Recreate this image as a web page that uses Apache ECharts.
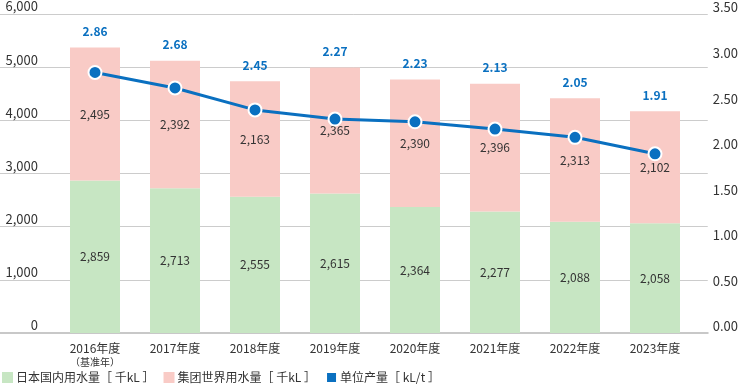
<!DOCTYPE html>
<html><head><meta charset="utf-8">
<script src="https://cdn.jsdelivr.net/npm/echarts@6/dist/echarts.min.js"></script>
<style>html,body{margin:0;padding:0;background:#fff}#c{width:741px;height:386px}</style>
</head><body><div id="c"></div>
<script>
const categories = ['2016年度', '2017年度', '2018年度', '2019年度', '2020年度', '2021年度', '2022年度', '2023年度'];
const domesticWater = [2859, 2713, 2555, 2615, 2364, 2277, 2088, 2058];
const globalWater = [2495, 2392, 2163, 2365, 2390, 2396, 2313, 2102];
// unit output as printed in the labels
const unitOutputLabels = [2.86, 2.68, 2.45, 2.27, 2.23, 2.13, 2.05, 1.91];
// unit output line as drawn in the picture
const unitOutputLine = [2.85, 2.68, 2.44, 2.34, 2.31, 2.23, 2.14, 1.96];
const leftTicks = [0, 1000, 2000, 3000, 4000, 5000, 6000];
const rightTicks = [0, 0.5, 1, 1.5, 2, 2.5, 3, 3.5];
const baseYearNote = '（基准年）';
const seriesNames = ['日本国内用水量［ 千kL ］', '集团世界用水量［ 千kL ］', '单位产量［ kL/t ］'];

const FONT = '"Noto Sans CJK SC", "Noto Sans", sans-serif';
const GREEN = '#c7e6c3', PINK = '#f9cbc6', BLUE = '#0a70c0';
const chart = echarts.init(document.getElementById('c'), null, {renderer: 'canvas'});
const fmtInt = v => v.toLocaleString('en-US');
chart.setOption({
  animation: false,
  textStyle: {fontFamily: FONT},
  grid: [
    {left: 0, right: 31, top: 13, bottom: 53},
    {left: 55, right: 46, top: 13, bottom: 53}
  ],
  legend: {
    left: 2, top: 371, padding: 0, itemWidth: 11, itemHeight: 11, itemGap: 9,
    icon: 'rect',
    textStyle: {fontSize: 12, color: '#333', fontFamily: FONT, padding: [0, 0, 0, -2]},
    data: [
      {name: seriesNames[0], itemStyle: {color: GREEN}},
      {name: seriesNames[1], itemStyle: {color: PINK}},
      {name: seriesNames[2], itemStyle: {color: BLUE}}
    ]
  },
  xAxis: [
    {gridIndex: 0, type: 'value', min: 0, max: 1, show: true,
     axisLine: {show: true, onZero: false, lineStyle: {color: '#c8c8c8', width: 2}},
     axisTick: {show: false}, axisLabel: {show: false}, splitLine: {show: false}},
    {gridIndex: 1, type: 'category', data: categories,
     axisLine: {show: false}, axisTick: {show: false},
     axisLabel: {
       interval: 0, margin: 7, color: '#333', fontSize: 12,
       formatter: (v, i) => i === 0 ? '{a|' + v + '}\n{s|' + baseYearNote + '}' : '{a|' + v + '}',
       rich: {
         a: {fontSize: 12, color: '#333', lineHeight: 16},
         s: {fontSize: 10, color: '#333', lineHeight: 13}
       }
     }}
  ],
  yAxis: [
    {gridIndex: 0, type: 'value', min: leftTicks[0], max: leftTicks[leftTicks.length - 1], interval: 1000,
     axisLine: {show: false}, axisTick: {show: false},
     splitLine: {show: true, lineStyle: {color: '#cccccc', width: 1}},
     axisLabel: {inside: true, margin: 38, align: 'right', verticalAlign: 'bottom', padding: [0, 0, 1, 0],
       color: '#333', fontSize: 13, formatter: v => fmtInt(v)}},
    {gridIndex: 0, type: 'value', position: 'right', min: rightTicks[0], max: rightTicks[rightTicks.length - 1], interval: 0.5,
     axisLine: {show: false}, axisTick: {show: false}, splitLine: {show: false},
     axisLabel: {margin: 5, align: 'left', verticalAlign: 'bottom', padding: [0, 0, 0, 0],
       color: '#333', fontSize: 13, formatter: v => v.toFixed(2)}},
    {gridIndex: 1, type: 'value', min: 0, max: 6000, show: false},
    {gridIndex: 1, type: 'value', min: 0, max: 3.5, show: false}
  ],
  series: [
    {name: seriesNames[0], type: 'bar', stack: 'w', xAxisIndex: 1, yAxisIndex: 2, barWidth: 50,
     data: domesticWater, itemStyle: {color: GREEN},
     label: {show: true, position: 'inside', color: '#333', fontSize: 12, formatter: p => fmtInt(p.value)}},
    {name: seriesNames[1], type: 'bar', stack: 'w', xAxisIndex: 1, yAxisIndex: 2, barWidth: 50,
     data: globalWater, itemStyle: {color: PINK},
     label: {show: true, position: 'inside', color: '#333', fontSize: 12, formatter: p => fmtInt(p.value)}},
    {name: seriesNames[1] + '_top', type: 'bar', stack: 'w', xAxisIndex: 1, yAxisIndex: 2, barWidth: 50,
     data: globalWater.map(() => 0), itemStyle: {color: 'transparent'},
     label: {show: true, position: 'top', distance: 10, color: BLUE, fontSize: 12, fontWeight: 'bold',
       formatter: p => unitOutputLabels[p.dataIndex].toFixed(2)}},
    {name: seriesNames[2], type: 'line', xAxisIndex: 1, yAxisIndex: 3, data: unitOutputLine, z: 5,
     lineStyle: {color: BLUE, width: 3}, symbol: 'circle', symbolSize: 13,
     itemStyle: {color: BLUE, borderColor: '#fff', borderWidth: 2}}
  ]
});
</script></body></html>
